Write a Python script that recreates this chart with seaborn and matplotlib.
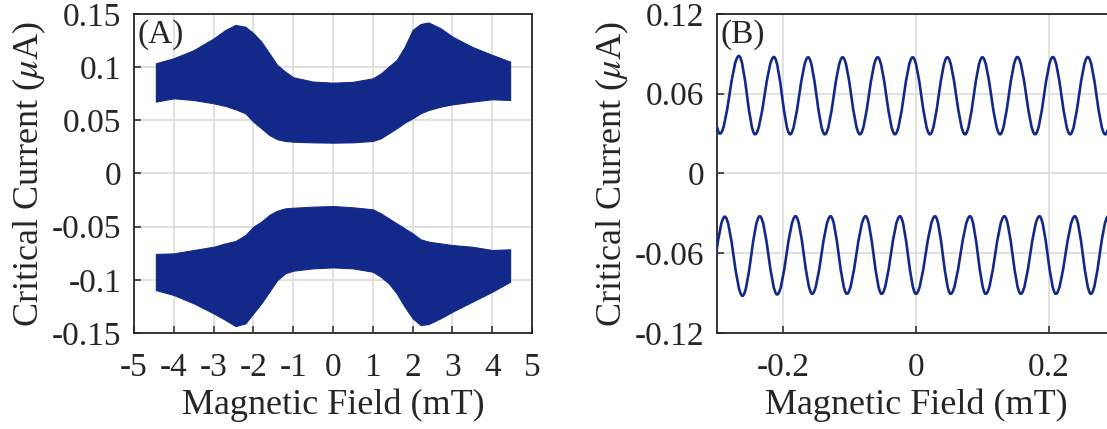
import numpy as np
import pandas as pd
import matplotlib
matplotlib.use("Agg")
import matplotlib.pyplot as plt
from matplotlib.path import Path
from matplotlib.patches import PathPatch
import seaborn as sns

# ---- panel A: envelope of the fast oscillation
field_a = [-4.45, -4.0, -3.5, -3.0, -2.7, -2.45, -2.2, -2.0, -1.8, -1.6, -1.4, -1.2, -1.0, -0.5,
           0.0, 0.5, 1.0, 1.2, 1.4, 1.6, 1.8, 2.0, 2.2, 2.4, 2.7, 3.0, 3.5, 4.0, 4.45]
upper_top = [0.1036, 0.1084, 0.116, 0.127, 0.135, 0.1397, 0.138, 0.132, 0.124, 0.113, 0.102,
             0.0958, 0.0905, 0.0864, 0.0854, 0.0862, 0.0895, 0.094, 0.1005, 0.1068, 0.119,
             0.135, 0.1406, 0.142, 0.1366, 0.1287, 0.119, 0.1115, 0.1052]
upper_bot = [0.0676, 0.0707, 0.0691, 0.066, 0.0635, 0.0604, 0.0566, 0.0487, 0.0425, 0.0362,
             0.0322, 0.0306, 0.0299, 0.0293, 0.029, 0.0293, 0.0306, 0.0331, 0.0378, 0.0425,
             0.0478, 0.0519, 0.0566, 0.0597, 0.0628, 0.065, 0.0676, 0.0698, 0.0691]
lower_top = [-0.0757, -0.0751, -0.072, -0.0689, -0.0657, -0.0635, -0.0579, -0.050, -0.0453,
             -0.039, -0.035, -0.0328, -0.0322, -0.0312, -0.0306, -0.0318, -0.0337, -0.0375,
             -0.0422, -0.0469, -0.0516, -0.0563, -0.0619, -0.0641, -0.0657, -0.0673, -0.0689,
             -0.072, -0.0713]
lower_bot = [-0.1096, -0.1143, -0.1221, -0.1315, -0.1378, -0.1435, -0.141, -0.1315, -0.1221,
             -0.1112, -0.1002, -0.0939, -0.0914, -0.0892, -0.0883, -0.0892, -0.0924, -0.0971,
             -0.1033, -0.1127, -0.1253, -0.1362, -0.1425, -0.1416, -0.1362, -0.13, -0.1206,
             -0.1112, -0.1018]

# ---- panel B: extrema of the two oscillating branches (alternating peak / trough)
upper_b_x = [-0.3195, -0.2955, -0.2670, -0.2426, -0.2142, -0.1898, -0.1626, -0.1374, -0.1106,
             -0.0845, -0.0578, -0.0317, -0.0050, 0.0211, 0.0473, 0.0740, 0.1001, 0.1268,
             0.1529, 0.1796, 0.2063, 0.2324, 0.2591, 0.2853, 0.3120]
upper_b_y = [0.0875, 0.0300, 0.0884, 0.0295, 0.0876, 0.0295, 0.0874, 0.0295, 0.0874, 0.0295,
             0.0874, 0.0295, 0.0874, 0.0295, 0.0874, 0.0295, 0.0874, 0.0295, 0.0876, 0.0295,
             0.0876, 0.0295, 0.0876, 0.0295, 0.0875]
lower_b_x = [-0.3150, -0.2883, -0.2616, -0.2355, -0.2093, -0.1816, -0.1565, -0.1288, -0.1041,
             -0.0760, -0.0518, -0.0242, 0.0000, 0.0287, 0.0523, 0.0815, 0.1052, 0.1333,
             0.1580, 0.1861, 0.2109, 0.2395, 0.2637, 0.2900]
lower_b_y = [-0.0905, -0.0325, -0.0920, -0.0322, -0.0910, -0.0322, -0.0905, -0.0322, -0.0905,
             -0.0322, -0.0905, -0.0322, -0.0905, -0.0322, -0.0905, -0.0322, -0.0905, -0.0322,
             -0.0905, -0.0322, -0.0905, -0.0322, -0.0905, -0.0322]

# ticks / labels
xticks_a = [-5, -4, -3, -2, -1, 0, 1, 2, 3, 4, 5]
yticks_a = [0.15, 0.1, 0.05, 0, -0.05, -0.1, -0.15]
ytick_labels_a = ["0.15", "0.1", "0.05", "0", "-0.05", "-0.1", "-0.15"]
xticks_b = [-0.2, 0, 0.2]
xtick_labels_b = ["-0.2", "0", "0.2"]
yticks_b = [0.12, 0.06, 0, -0.06, -0.12]
ytick_labels_b = ["0.12", "0.06", "0", "-0.06", "-0.12"]

blue = "#13298a"
TICK_FS = 24
LABEL_FS = 26

sns.set_style("ticks")
plt.rcParams["font.family"] = ["Liberation Serif", "DejaVu Serif"]
plt.rcParams["mathtext.fontset"] = "stix"

fig = plt.figure(figsize=(11.07, 4.29), dpi=100)
ax_a = fig.add_axes([0.1210, 0.2238, 0.3596, 0.7436])
ax_b = fig.add_axes([0.6477, 0.2238, 0.3595, 0.7436])

# panel A - band between min/max at each field value
n = len(field_a)
df_a = pd.DataFrame({
    "field": field_a * 4,
    "current": upper_top + upper_bot + lower_top + lower_bot,
    "branch": ["upper"] * (2 * n) + ["lower"] * (2 * n),
})
sns.lineplot(data=df_a, x="field", y="current", hue="branch", palette=[blue, blue],
             estimator="mean", errorbar=("pi", 100), linewidth=0, legend=False,
             err_kws={"alpha": 1, "edgecolor": blue, "linewidth": 0.8}, ax=ax_a)


# panel B - smooth curve through the extrema (bezier with flat tangents)
def extrema_path(xs, ys, k=0.3634):
    verts = [(xs[0], ys[0])]
    codes = [Path.MOVETO]
    for i in range(1, len(xs)):
        dx = xs[i] - xs[i - 1]
        verts += [(xs[i - 1] + k * dx, ys[i - 1]), (xs[i] - k * dx, ys[i]), (xs[i], ys[i])]
        codes += [Path.CURVE4] * 3
    return Path(verts, codes)


for xs, ys in [(upper_b_x, upper_b_y), (lower_b_x, lower_b_y)]:
    ax_b.add_patch(PathPatch(extrema_path(xs, ys), facecolor="none", edgecolor=blue,
                             linewidth=1.9, zorder=3))

# styling, matlab-ish
for ax in (ax_a, ax_b):
    ax.grid(True, color="#dedede", linewidth=1.3)
    ax.set_axisbelow(True)
    for sp in ax.spines.values():
        sp.set_color("#262626")
        sp.set_linewidth(1.3)
        sp.set_visible(True)
    ax.tick_params(direction="in", length=5, width=1.1, labelsize=TICK_FS, color="#262626")
    ax.tick_params(axis="x", pad=14)
    ax.tick_params(axis="y", pad=9)
    ax.set_xlabel("Magnetic Field (mT)", fontsize=LABEL_FS, labelpad=4)
    ax.set_ylabel(r"Critical Current ($\mu$A)", fontsize=LABEL_FS, labelpad=3)

ax_a.set_xlim(-5, 5)
ax_a.set_ylim(-0.15, 0.15)
ax_a.set_xticks(xticks_a)
ax_a.set_xticklabels([str(t) for t in xticks_a])
ax_a.set_yticks(yticks_a)
ax_a.set_yticklabels(ytick_labels_a)

ax_b.set_xlim(-0.3, 0.3)
ax_b.set_ylim(-0.12, 0.12)
ax_b.set_xticks(xticks_b)
ax_b.set_xticklabels(xtick_labels_b)
ax_b.set_yticks(yticks_b)
ax_b.set_yticklabels(ytick_labels_b)

ax_a.text(0.01, 0.985, "(A)", transform=ax_a.transAxes, fontsize=TICK_FS, va="top", ha="left")
ax_b.text(0.01, 0.985, "(B)", transform=ax_b.transAxes, fontsize=TICK_FS, va="top", ha="left")

fig.savefig("out.png", dpi=100)
plt.close(fig)
